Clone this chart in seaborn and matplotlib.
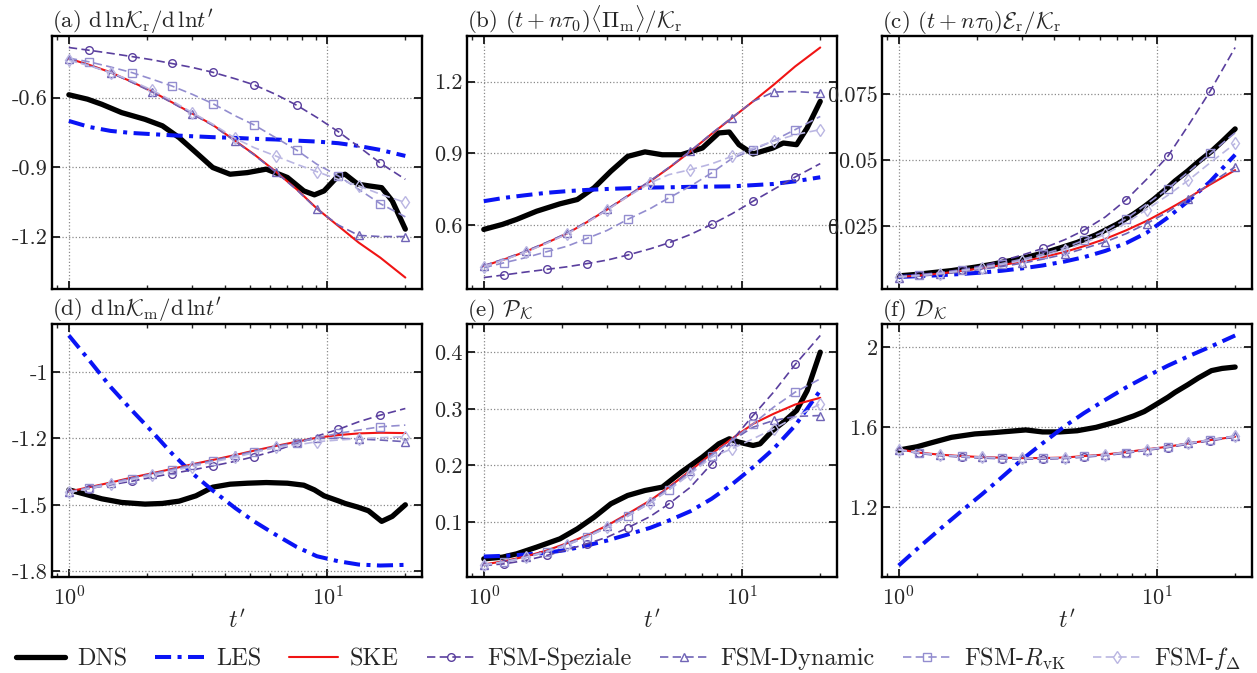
import matplotlib
matplotlib.use("Agg")
import matplotlib.pyplot as plt
import seaborn as sns

# sample times (t')
t_mod = [1.0, 1.2, 1.45, 1.75, 2.1, 2.5, 3.0, 3.6, 4.4, 5.2, 6.3, 7.6, 9.1, 11.0, 13.2, 16.0, 20.0]
t_dns = [1.0, 1.18, 1.34, 1.6, 1.97, 2.3, 2.67, 3.1, 3.6, 4.2, 4.9, 5.8, 7.0, 8.1, 8.9, 9.7,
         11.0, 11.7, 13.1, 14.4, 16.2, 17.8, 20.0]

labels = ["DNS", "LES", "SKE", "FSM-Speziale", "FSM-Dynamic", r"FSM-$R_\mathrm{vK}$", r"FSM-$f_\Delta$"]

# (a) d ln K_r / d ln t'
a_dns = [-0.588, -0.607, -0.629, -0.665, -0.694, -0.722, -0.773, -0.837, -0.902, -0.931, -0.924, -0.909,
         -0.945, -1.003, -1.020, -1.003, -0.938, -0.931, -0.974, -0.981, -0.989, -1.046, -1.168]
a_les = [-0.701, -0.727, -0.744, -0.753, -0.758, -0.763, -0.767, -0.771, -0.774, -0.778, -0.781, -0.786,
         -0.790, -0.797, -0.809, -0.826, -0.852]
a_ske = [-0.432, -0.459, -0.491, -0.532, -0.574, -0.620, -0.669, -0.718, -0.787, -0.845, -0.919, -0.996,
         -1.079, -1.154, -1.226, -1.291, -1.377]
a_spe = [-0.384, -0.396, -0.409, -0.423, -0.437, -0.453, -0.470, -0.491, -0.519, -0.545, -0.586, -0.633,
         -0.686, -0.747, -0.812, -0.883, -0.953]
a_dyn = [-0.434, -0.461, -0.493, -0.534, -0.576, -0.622, -0.671, -0.720, -0.789, -0.847, -0.921, -0.998,
         -1.081, -1.150, -1.195, -1.200, -1.200]
a_rvk = [-0.430, -0.446, -0.468, -0.492, -0.521, -0.550, -0.586, -0.626, -0.679, -0.718, -0.773, -0.827,
         -0.888, -0.938, -0.996, -1.058, -1.115]
a_fd = [-0.439, -0.463, -0.492, -0.528, -0.568, -0.614, -0.665, -0.715, -0.776, -0.816, -0.852, -0.888,
        -0.920, -0.953, -0.981, -1.017, -1.053]

# (b) (t + n tau0) <Pi_m> / K_r
b_dns = [0.582, 0.603, 0.624, 0.658, 0.689, 0.707, 0.756, 0.825, 0.887, 0.906, 0.894, 0.894,
         0.922, 0.985, 0.989, 0.936, 0.897, 0.906, 0.922, 0.943, 0.936, 1.006, 1.117]
b_les = [0.700, 0.714, 0.725, 0.735, 0.742, 0.747, 0.751, 0.754, 0.757, 0.758, 0.760, 0.761,
         0.762, 0.767, 0.772, 0.783, 0.800]
b_ske = [0.429, 0.457, 0.489, 0.526, 0.565, 0.612, 0.665, 0.721, 0.783, 0.839, 0.908, 0.981,
         1.047, 1.117, 1.186, 1.263, 1.342]
b_spe = [0.381, 0.392, 0.404, 0.415, 0.426, 0.439, 0.454, 0.475, 0.501, 0.526, 0.561, 0.603,
         0.647, 0.700, 0.749, 0.801, 0.857]
b_dyn = [0.431, 0.459, 0.491, 0.528, 0.567, 0.614, 0.667, 0.723, 0.785, 0.841, 0.910, 0.983,
         1.049, 1.117, 1.156, 1.158, 1.152]
b_rvk = [0.422, 0.443, 0.464, 0.489, 0.512, 0.544, 0.578, 0.624, 0.669, 0.714, 0.763, 0.818,
         0.878, 0.915, 0.953, 0.999, 1.054]
b_fd = [0.427, 0.455, 0.487, 0.524, 0.563, 0.610, 0.663, 0.719, 0.776, 0.811, 0.832, 0.856,
        0.887, 0.922, 0.950, 0.978, 0.999]

# (c) (t + n tau0) E_r / K_r
c_dns = [0.0060, 0.0066, 0.0072, 0.0080, 0.0093, 0.0104, 0.0117, 0.0130, 0.0146, 0.0166, 0.0187, 0.0216,
         0.0257, 0.0295, 0.0323, 0.0351, 0.0396, 0.0420, 0.0458, 0.0493, 0.0533, 0.0570, 0.0618]
c_les = [0.00562, 0.00590, 0.00628, 0.00672, 0.00728, 0.00795, 0.00885, 0.00995, 0.0115, 0.0131, 0.0155,
         0.0185, 0.0224, 0.0282, 0.0345, 0.0418, 0.0520]
c_ske = [0.00562, 0.00613, 0.00689, 0.00791, 0.00892, 0.01006, 0.01145, 0.01310, 0.01512, 0.01727, 0.02006,
         0.02335, 0.02689, 0.03120, 0.03563, 0.04069, 0.04614]
c_spe = [0.0059, 0.0065, 0.0073, 0.0084, 0.0098, 0.0117, 0.0139, 0.0164, 0.0198, 0.0233, 0.0284,
         0.0350, 0.0427, 0.0515, 0.0632, 0.0761, 0.0927]
c_dyn = [0.00537, 0.00588, 0.00664, 0.00752, 0.00854, 0.00955, 0.01082, 0.01234, 0.01424, 0.01639, 0.01892,
         0.02208, 0.02588, 0.03031, 0.03537, 0.04107, 0.04740]
c_rvk = [0.00562, 0.00626, 0.00714, 0.00816, 0.00942, 0.01069, 0.01234, 0.01424, 0.01676, 0.01955, 0.02309,
         0.02778, 0.03322, 0.03917, 0.04550, 0.05247, 0.06032]
c_fd = [0.00562, 0.00613, 0.00689, 0.00791, 0.00904, 0.01031, 0.01183, 0.01360, 0.01600, 0.01854, 0.02183,
        0.02613, 0.03120, 0.03664, 0.04234, 0.04892, 0.05626]

# (d) d ln K_m / d ln t'
d_dns = [-1.4325, -1.455, -1.473, -1.4895, -1.497, -1.494, -1.4835, -1.4595, -1.4205, -1.407, -1.4025,
         -1.3995, -1.4025, -1.4115, -1.4325, -1.4595, -1.482, -1.494, -1.5105, -1.527, -1.575, -1.5525, -1.50]
d_les = [-0.735, -0.8475, -0.9675, -1.0725, -1.170, -1.2675, -1.3575, -1.4355, -1.515, -1.575, -1.635,
         -1.6905, -1.7325, -1.755, -1.770, -1.7745, -1.7715]
d_ske = [-1.44, -1.4205, -1.3995, -1.377, -1.3575, -1.338, -1.317, -1.2975, -1.275, -1.2555, -1.2345,
         -1.215, -1.197, -1.185, -1.1775, -1.1745, -1.176]
d_spe = [-1.443, -1.4265, -1.41, -1.3935, -1.3755, -1.359, -1.3425, -1.3245, -1.3035, -1.2825, -1.2555,
         -1.2225, -1.1895, -1.1595, -1.125, -1.095, -1.065]
d_dyn = [-1.442, -1.4225, -1.4015, -1.379, -1.3595, -1.340, -1.319, -1.2995, -1.277, -1.2575, -1.2365,
         -1.217, -1.200, -1.200, -1.203, -1.2075, -1.215]
d_rvk = [-1.443, -1.4235, -1.4025, -1.3815, -1.362, -1.3425, -1.323, -1.3035, -1.281, -1.2615, -1.2405,
         -1.2195, -1.197, -1.1775, -1.1625, -1.1475, -1.14]
d_fd = [-1.4445, -1.4265, -1.407, -1.386, -1.3665, -1.347, -1.3275, -1.3065, -1.2855, -1.2645, -1.2405,
        -1.23, -1.215, -1.2075, -1.2015, -1.197, -1.1925]

# (e) P_K
e_dns = [0.0353, 0.0382, 0.0441, 0.0559, 0.0706, 0.0882, 0.1088, 0.1324, 0.1471, 0.1559, 0.1618, 0.1882,
         0.2147, 0.2382, 0.2471, 0.2412, 0.2353, 0.2382, 0.2618, 0.2765, 0.297, 0.332, 0.400]
e_les = [0.0394, 0.0406, 0.0429, 0.0459, 0.0512, 0.0588, 0.0676, 0.0782, 0.0900, 0.1029, 0.1194, 0.1412,
         0.1665, 0.1971, 0.2294, 0.2706, 0.3324]
e_ske = [0.0253, 0.0312, 0.0394, 0.0500, 0.0629, 0.0765, 0.0941, 0.1147, 0.1382, 0.1618, 0.1912, 0.2206,
         0.2471, 0.2735, 0.2912, 0.3076, 0.3194]
e_spe = [0.0235, 0.0265, 0.0324, 0.0412, 0.0512, 0.0618, 0.0735, 0.0900, 0.1100, 0.1324, 0.1618, 0.2029,
         0.2441, 0.2882, 0.3294, 0.3782, 0.4294]
e_dyn = [0.0247, 0.0305, 0.0385, 0.0490, 0.0620, 0.0755, 0.0930, 0.1135, 0.1370, 0.1605, 0.1900, 0.2190,
         0.2440, 0.2676, 0.2794, 0.2865, 0.2882]
e_rvk = [0.0240, 0.0295, 0.0372, 0.0475, 0.0600, 0.0735, 0.0905, 0.1105, 0.1340, 0.1575, 0.1865, 0.2176,
         0.2441, 0.2735, 0.3029, 0.3294, 0.3529]
e_fd = [0.0245, 0.0300, 0.0378, 0.0480, 0.0605, 0.0740, 0.0910, 0.1110, 0.1340, 0.1570, 0.1850, 0.2147,
        0.2294, 0.2471, 0.2647, 0.2853, 0.3088]

# (f) D_K
f_dns = [1.485, 1.502, 1.522, 1.549, 1.566, 1.572, 1.579, 1.586, 1.576, 1.576, 1.582, 1.599,
         1.628, 1.656, 1.678, 1.707, 1.750, 1.774, 1.812, 1.846, 1.883, 1.894, 1.901]
f_les = [0.907, 0.999, 1.091, 1.180, 1.264, 1.348, 1.438, 1.519, 1.606, 1.670, 1.737, 1.800,
         1.854, 1.908, 1.955, 2.002, 2.059]
f_ske = [1.489, 1.472, 1.462, 1.455, 1.450, 1.447, 1.445, 1.445, 1.448, 1.455, 1.463, 1.475,
         1.489, 1.502, 1.519, 1.535, 1.552]
f_spe = [1.487, 1.468, 1.457, 1.450, 1.445, 1.442, 1.440, 1.440, 1.443, 1.450, 1.458, 1.470,
         1.484, 1.498, 1.515, 1.532, 1.550]
f_dyn = [1.488, 1.471, 1.461, 1.454, 1.449, 1.446, 1.444, 1.444, 1.447, 1.454, 1.462, 1.474,
         1.488, 1.502, 1.520, 1.537, 1.556]
f_rvk = [1.487, 1.470, 1.460, 1.453, 1.448, 1.445, 1.443, 1.443, 1.446, 1.453, 1.461, 1.473,
         1.487, 1.501, 1.518, 1.535, 1.553]
f_fd = [1.488, 1.471, 1.460, 1.453, 1.449, 1.446, 1.444, 1.444, 1.447, 1.454, 1.462, 1.474,
        1.488, 1.502, 1.519, 1.536, 1.554]

titles = [r"(a) $\mathrm{d}\,\ln\!\mathcal{K}_\mathrm{r}/\mathrm{d}\,\ln\!t^{\prime}$",
          r"(b) $(t+n\tau_0)\langle\Pi_\mathrm{m}\rangle/\mathcal{K}_\mathrm{r}$",
          r"(c) $(t+n\tau_0)\mathcal{E}_\mathrm{r}/\mathcal{K}_\mathrm{r}$",
          r"(d) $\mathrm{d}\,\ln\!\mathcal{K}_\mathrm{m}/\mathrm{d}\,\ln\!t^{\prime}$",
          r"(e) $\mathcal{P}_\mathcal{K}$",
          r"(f) $\mathcal{D}_\mathcal{K}$"]
yticks = [[-0.6, -0.9, -1.2], [0.6, 0.9, 1.2], [0.025, 0.05, 0.075],
          [-0.9, -1.2, -1.5, -1.8], [0.1, 0.2, 0.3, 0.4], [1.2, 1.6, 2.0]]
ytick_labels = [["-0.6", "-0.9", "-1.2"], ["0.6", "0.9", "1.2"], ["0.025", "0.05", "0.075"],
                ["-1", "-1.2", "-1.5", "-1.8"], ["0.1", "0.2", "0.3", "0.4"], ["1.2", "1.6", "2"]]

panels = [
    [a_dns, a_les, a_ske, a_spe, a_dyn, a_rvk, a_fd],
    [b_dns, b_les, b_ske, b_spe, b_dyn, b_rvk, b_fd],
    [c_dns, c_les, c_ske, c_spe, c_dyn, c_rvk, c_fd],
    [d_dns, d_les, d_ske, d_spe, d_dyn, d_rvk, d_fd],
    [e_dns, e_les, e_ske, e_spe, e_dyn, e_rvk, e_fd],
    [f_dns, f_les, f_ske, f_spe, f_dyn, f_rvk, f_fd],
]

# line styles: color, width, dash pattern, marker, markevery
dash = (0, (5, 2.6))
styles = [
    dict(color="black", lw=3.8, ls="-", marker=None, every=None),
    dict(color="#0a14f5", lw=2.9, ls=(0, (4, 1.6, 1, 1.6)), marker=None, every=None),
    dict(color="#f01414", lw=1.5, ls="-", marker=None, every=None),
    dict(color="#5a3f9e", lw=1.2, ls=dash, marker="o", every=(1, 2)),
    dict(color="#7064b6", lw=1.2, ls=dash, marker="^", every=(0, 2)),
    dict(color="#938dcf", lw=1.2, ls=dash, marker="s", every=(1, 2)),
    dict(color="#bab6e2", lw=1.2, ls=dash, marker="d", every=(0, 2)),
]

sns.set_theme(style="ticks")
plt.rcParams["font.family"] = "serif"
plt.rcParams["font.serif"] = ["cmr10", "DejaVu Serif"]
plt.rcParams["mathtext.fontset"] = "cm"
plt.rcParams["axes.unicode_minus"] = False
plt.rcParams["axes.formatter.use_mathtext"] = True

fig, axes = plt.subplots(2, 3, figsize=(12.57, 6.73), dpi=100)
fig.subplots_adjust(left=0.0414, right=0.996, top=0.9465, bottom=0.1426, wspace=0.121, hspace=0.138)

for i, ax in enumerate(axes.flat):
    ax.set_xscale("log")
    for j, (vals, st) in enumerate(zip(panels[i], styles)):
        t = t_dns if j == 0 else t_mod
        kw = {}
        if st["marker"] is not None:
            kw = dict(marker=st["marker"], markersize=5.5 if st["marker"] != "d" else 6,
                      markerfacecolor="none", markeredgecolor=st["color"],
                      markeredgewidth=1.0, markevery=st["every"])
        sns.lineplot(x=t, y=vals, ax=ax, color=st["color"], linewidth=st["lw"],
                     linestyle=st["ls"], label=labels[j], legend=False,
                     errorbar=None, sort=False, **kw)
    ax.set_title(titles[i], loc="left", fontsize=16.5, pad=4)
    ax.set_yticks(yticks[i], ytick_labels[i])
    ax.yaxis.set_minor_locator(matplotlib.ticker.NullLocator())
    ax.grid(True, which="major", linestyle=":", color="#8a8a8a", linewidth=0.9)
    ax.tick_params(which="both", direction="in", top=True, right=True, labelsize=16)
    ax.tick_params(which="major", length=5.5, width=1.4, pad=3)
    ax.tick_params(which="minor", length=3.2, width=1.0)
    for sp in ax.spines.values():
        sp.set_linewidth(1.7)
        sp.set_color("black")
    ax.set_ylabel("")
    if i < 3:
        ax.tick_params(labelbottom=False)
        ax.set_xlabel("")
    else:
        ax.set_xlabel(r"$t^{\prime}$", fontsize=17, labelpad=0)
        ax.tick_params(axis="x", which="major", pad=6)

handles, labs = axes.flat[0].get_legend_handles_labels()
fig.legend(handles, labs, loc="center", bbox_to_anchor=(0.5, 14 / 673), ncol=7,
           frameon=False, fontsize=17.5, handlelength=2.0, handletextpad=0.5,
           columnspacing=1.15, borderpad=0.0)

fig.savefig("out.png", dpi=100)
